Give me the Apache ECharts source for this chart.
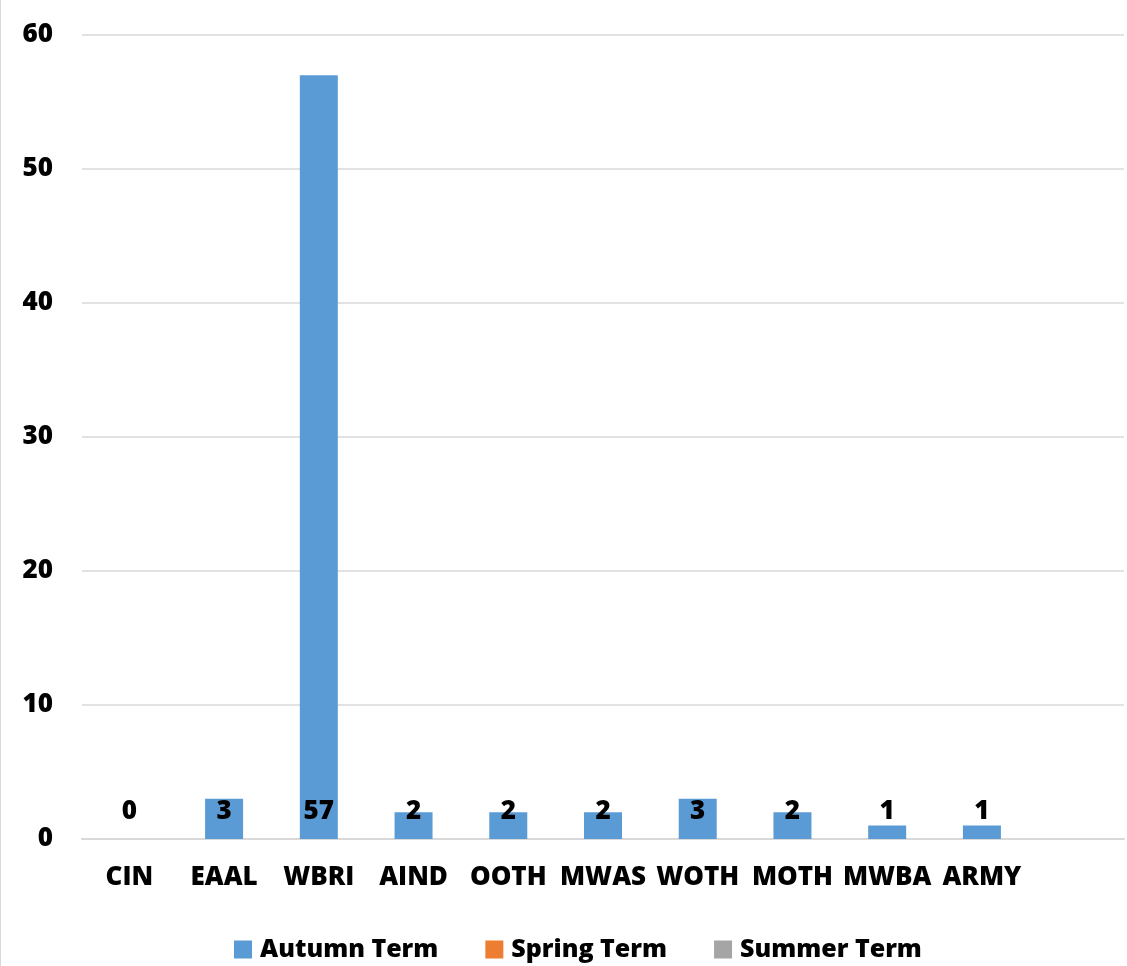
<!DOCTYPE html>
<html>
<head>
<meta charset="utf-8">
<script src="https://cdn.jsdelivr.net/npm/echarts@6/dist/echarts.min.js"></script>
<style>
html,body{margin:0;padding:0;background:#fff;}
#chart{width:1127px;height:966px;}
</style>
</head>
<body>
<div id="chart"></div>
<script>
const categories = ['CIN','EAAL','WBRI','AIND','OOTH','MWAS','WOTH','MOTH','MWBA','ARMY',''];
const autumnTerm = [0,3,57,2,2,2,3,2,1,1,null];
const springTerm = [];
const summerTerm = [];
const yTicks = {min:0, max:60, interval:10};

const FONT = '"Open Sans", sans-serif';
const W = 800;
const chart = echarts.init(document.getElementById('chart'), null, {renderer:'canvas'});
const labelStyle = {
  show:true, position:'insideBottom', distance:14,
  fontFamily:FONT, fontWeight:W, fontSize:26, color:'#000',
  formatter: p => (p.value === null || p.value === undefined) ? '' : String(p.value)
};
chart.setOption({
  animation:false,
  backgroundColor:'#fff',
  grid:{left:82, right:3, top:35, bottom:127, containLabel:false},
  legend:{
    bottom:4, left:234, padding:0, itemWidth:18, itemHeight:18, itemGap:47,
    icon:'rect',
    textStyle:{fontFamily:FONT, fontWeight:W, fontSize:25, color:'#000', padding:[0,0,0,3]},
    data:['Autumn Term','Spring Term','Summer Term']
  },
  xAxis:{
    type:'category', data:categories,
    axisLine:{show:true, lineStyle:{color:'#d9d9d9', width:2}},
    axisTick:{show:false},
    axisLabel:{margin:26, interval:0, fontFamily:FONT, fontWeight:W, fontSize:26, color:'#000'}
  },
  yAxis:{
    type:'value', min:yTicks.min, max:yTicks.max, interval:yTicks.interval,
    axisLine:{show:false}, axisTick:{show:false},
    splitLine:{lineStyle:{color:'#d9d9d9', width:1.5}},
    axisLabel:{margin:29, fontFamily:FONT, fontWeight:W, fontSize:26, color:'#000'}
  },
  series:[
    {name:'Autumn Term', type:'bar', data:autumnTerm, barWidth:38, barGap:'-100%',
     itemStyle:{color:'#5B9BD5'}, label:labelStyle},
    {name:'Spring Term', type:'bar', data:springTerm, barWidth:38, barGap:'-100%',
     itemStyle:{color:'#ED7D31'}},
    {name:'Summer Term', type:'bar', data:summerTerm, barWidth:38, barGap:'-100%',
     itemStyle:{color:'#A5A5A5'}}
  ],
  graphic:[{type:'line', shape:{x1:0.5,y1:0,x2:0.5,y2:966}, style:{stroke:'#d9d9d9', lineWidth:1}}]
});
</script>
</body>
</html>
